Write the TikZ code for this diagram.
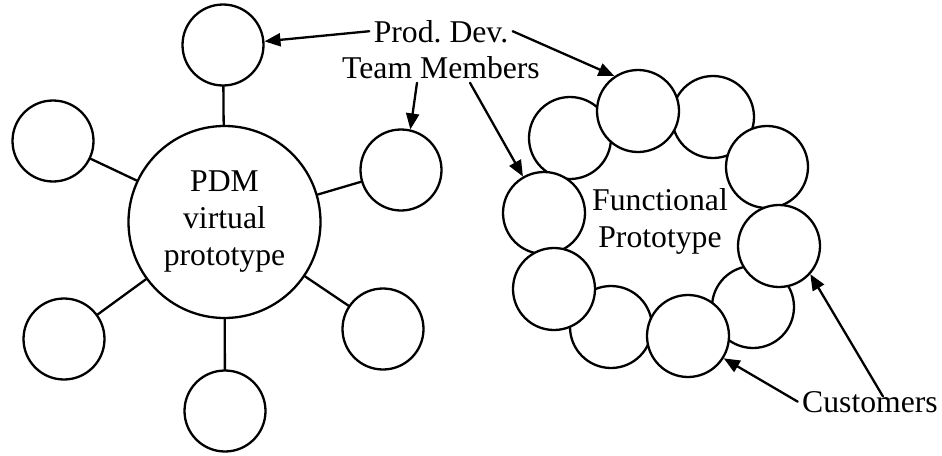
\documentclass[tikz,border=0pt]{standalone}
\usepackage{fontspec}
\setmainfont{Liberation Serif}
\usetikzlibrary{arrows.meta}
\frenchspacing
\begin{document}
\begin{tikzpicture}[x=1pt, y=-1pt, line width=2.3pt, line join=round, line cap=round,
	font=\fontsize{31.7}{37}\selectfont, >={Triangle[length=16pt,width=13pt]},
	mem/.style={circle, draw, fill=white, minimum size=81pt, inner sep=0pt},
	ring/.style={circle, draw, fill=white, minimum size=82pt, inner sep=0pt}]
	\useasboundingbox (0,0) rectangle (942,455);
	% PDM virtual prototype
	\node[circle, draw, minimum size=192pt, inner sep=0pt, align=center] (P) at (224.5,222) {PDM\\virtual\\prototype};
	\node[mem] (T) at (223,45) {};
	\node[mem] (TL) at (53,141) {};
	\node[mem] (R) at (401,170) {};
	\node[mem] (BL) at (64,339) {};
	\node[mem] (BR) at (383,329) {};
	\node[mem] (B) at (225,411) {};
	\foreach \m in {T,TL,R,BL,BR,B} \draw (P)--(\m);
	% Functional prototype
	\node[ring] (r2) at (713,117) {};
	\node[ring] (r3) at (570,138) {};
	\node[ring] (r8) at (753,307) {};
	\node[ring] (r9) at (611,327) {};
	\node[ring] (r1) at (638,111) {};
	\node[ring] (r4) at (767,167) {};
	\node[ring] (r5) at (544,213) {};
	\node[ring] (r10) at (688,336) {};
	\node[ring] (r6) at (779,246) {};
	\node[ring] (r7) at (554,289) {};
	\node[align=center] (F) at (660,221) {Functional\\Prototype};
	% labels
	\node[anchor=base] (pd) at (441,42) {Prod. Dev.};
	\node[anchor=base] (tm) at (441,78) {Team Members};
	\node[anchor=base] (cu) at (870,412) {Customers};
	\draw[->] (pd.west) -- (T.5);
	\draw[->] (pd.east) -- (r1.124);
	\draw[->] ([xshift=-24pt]tm.south) -- (R.77);
	\draw[->] ([xshift=29pt]tm.south) -- (r5.120);
	\draw[->] (cu.west) -- (r10.-32);
	\draw[->] ([xshift=13pt,yshift=-10pt]cu.north) -- (r6.-42);
\end{tikzpicture}
\end{document}
